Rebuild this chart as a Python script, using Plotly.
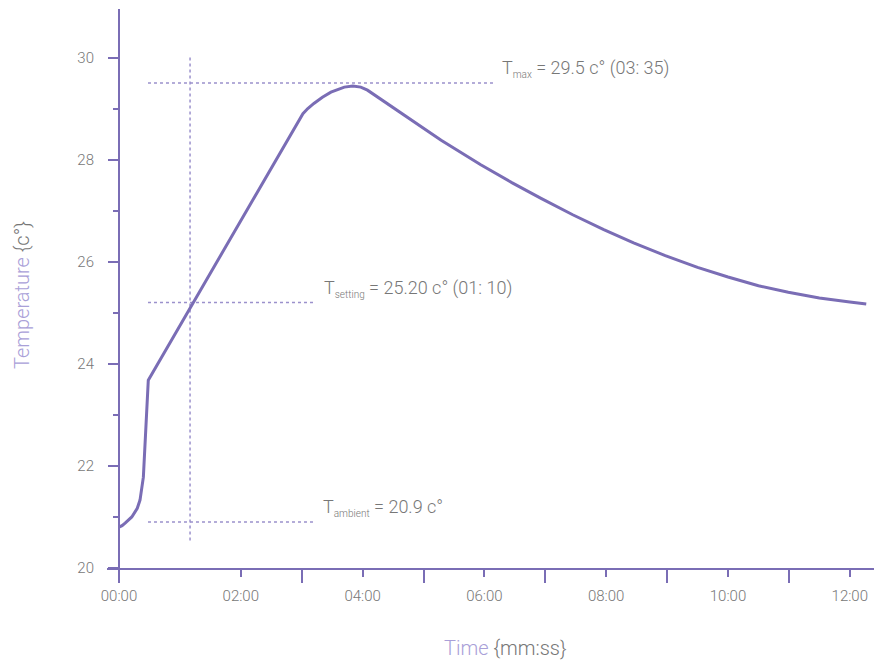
import plotly.graph_objects as go

# ---- data ----
time_min = [0.0, 0.05, 0.10, 0.21, 0.30, 0.345, 0.40, 0.427, 0.455, 0.481,
            3.02, 3.10, 3.20, 3.34, 3.48, 3.60, 3.70, 3.84, 3.97, 4.08,
            4.60, 5.29, 5.94, 6.45, 6.93, 7.45, 7.96, 8.45, 8.97, 9.50,
            10.0, 10.5, 10.99, 11.5, 12.0, 12.27]
temp_c = [20.80, 20.83, 20.88, 21.00, 21.17, 21.33, 21.78, 22.44, 23.23, 23.68,
          28.90, 29.00, 29.10, 29.22, 29.32, 29.38, 29.42, 29.44, 29.42, 29.36,
          28.94, 28.38, 27.90, 27.55, 27.24, 26.92, 26.63, 26.37, 26.12, 25.89,
          25.70, 25.53, 25.40, 25.29, 25.21, 25.17]

x_tickvals = [0, 2, 4, 6, 8, 10, 12]
x_ticktext = ["00:00", "02:00", "04:00", "06:00", "08:00", "10:00", "12:00"]
x_minorvals = [0, 3, 5, 7, 9, 11]
y_tickvals = [20, 22, 24, 26, 28, 30]
y_minorvals = [21, 23, 25, 27, 29]

T_max, t_max_label = 29.5, "03: 35"
T_setting, t_setting = 25.20, 70 / 60
T_ambient = 20.9

# ---- styling ----
PURPLE = "#7a6db5"
DOT = "#9b91cc"
LIGHT = "#a9a0d8"
GRAY = "#777777"
FONT = "Roboto"

ref_start = 0.476
max_end = 6.17
short_end = 3.22
vert_lo, vert_hi = 20.54, 30.04

fig = go.Figure()
fig.add_trace(go.Scatter(x=time_min, y=temp_c, mode="lines",
                         line=dict(color=PURPLE, width=3), hoverinfo="skip"))

dash = "3px,3px"
for (x0, x1, y0, y1) in [(ref_start, max_end, T_max, T_max),
                         (ref_start, short_end, T_setting, T_setting),
                         (ref_start, short_end, T_ambient, T_ambient),
                         (t_setting, t_setting, vert_lo, vert_hi)]:
    fig.add_shape(type="line", xref="x", yref="y", x0=x0, x1=x1, y0=y0, y1=y1,
                  line=dict(color=DOT, width=1.5, dash=dash), layer="below")

def sub(s):
    return "<sub><span style='font-size:10px'>%s</span></sub>" % s

ann_font = dict(family=FONT, size=18, color=GRAY, weight=300)
fig.add_annotation(x=max_end, y=T_max, xref="x", yref="y", xanchor="left", yanchor="bottom",
                   xshift=5, yshift=1, showarrow=False, font=ann_font,
                   text="T" + sub("max") + " = %.1f c° (%s)" % (T_max, t_max_label))
fig.add_annotation(x=short_end, y=T_setting, xref="x", yref="y", xanchor="left", yanchor="bottom",
                   xshift=7, yshift=1, showarrow=False, font=ann_font,
                   text="T" + sub("setting") + " = %.2f c° (01: 10)" % T_setting)
fig.add_annotation(x=short_end, y=T_ambient, xref="x", yref="y", xanchor="left", yanchor="bottom",
                   xshift=6, yshift=1, showarrow=False, font=ann_font,
                   text="T" + sub("ambient") + " = %.1f c°" % T_ambient)

# page body has an 8px margin: the figure div starts at (8, 8)
OFF = 8
W, H = 882 - OFF, 661 - OFF
L, R, T, B = 107 - OFF, 0, 9 - OFF, 93
plot_w = W - L - R
plot_h = H - T - B
px_per_min = 60.9
px_per_deg = 51.05
yaxis_px = 119 - OFF  # y axis line position within the figure

def paper_x(px):
    return (px - OFF - L) / plot_w

def paper_y(py):
    return (H - B - (py - OFF)) / plot_h

fig.add_annotation(x=paper_x(22), y=paper_y(295), xref="paper", yref="paper",
                   xanchor="center", yanchor="middle", textangle=-90, showarrow=False,
                   font=dict(family=FONT, size=20, color=GRAY, weight=300),
                   text="<span style='color:%s'>Temperature</span> {c°}" % LIGHT)
fig.add_annotation(x=paper_x(505), y=paper_y(648), xref="paper", yref="paper",
                   xanchor="center", yanchor="middle", showarrow=False,
                   font=dict(family=FONT, size=20, color=GRAY, weight=300),
                   text="<span style='color:%s'>Time</span> {mm:ss}" % LIGHT)

fig.update_layout(
    width=W, height=H, margin=dict(l=L, r=R, t=T, b=B),
    paper_bgcolor="white", plot_bgcolor="white", showlegend=False,
    xaxis=dict(range=[-(yaxis_px - L) / px_per_min, (W - R - yaxis_px) / px_per_min],
               showline=True, linecolor=PURPLE, linewidth=2,
               ticks="outside", ticklen=7, tickwidth=2, tickcolor=PURPLE,
               tickvals=x_tickvals, ticktext=x_ticktext, ticklabelstandoff=6,
               tickfont=dict(family=FONT, size=15, color=GRAY, weight=300),
               minor=dict(tickvals=x_minorvals, ticks="outside", ticklen=13,
                          tickwidth=2, tickcolor=PURPLE, showgrid=False),
               showgrid=False, zeroline=False, fixedrange=True),
    yaxis=dict(range=[20, 20 + plot_h / px_per_deg], anchor="free",
               position=(yaxis_px - L) / plot_w,
               showline=True, linecolor=PURPLE, linewidth=2,
               ticks="outside", ticklen=10, tickwidth=2, tickcolor=PURPLE,
               tickvals=y_tickvals, ticklabelstandoff=11,
               tickfont=dict(family=FONT, size=15, color=GRAY, weight=300),
               minor=dict(tickvals=y_minorvals, ticks="outside", ticklen=5,
                          tickwidth=2, tickcolor=PURPLE, showgrid=False),
               showgrid=False, zeroline=False, fixedrange=True),
)

fig.write_html("out.html")
